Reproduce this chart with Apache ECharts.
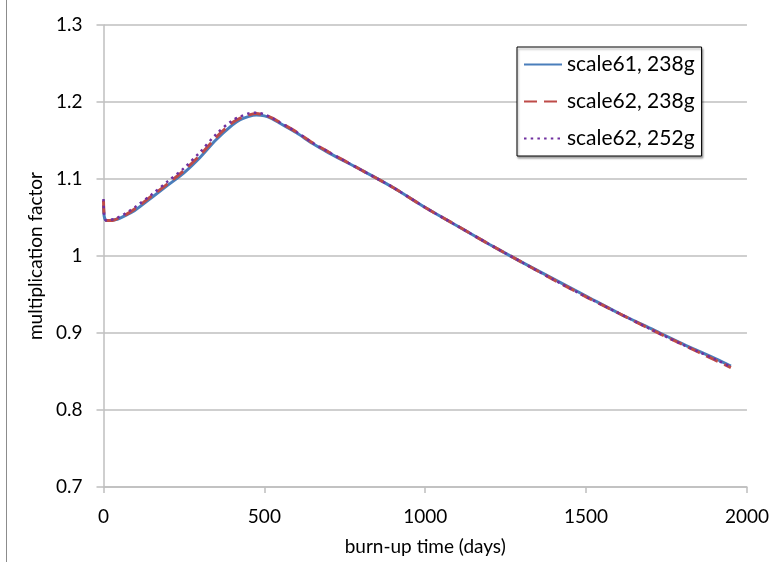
<!DOCTYPE html>
<html>
<head>
<meta charset="utf-8">
<script src="https://cdn.jsdelivr.net/npm/echarts@6/dist/echarts.min.js"></script>
<style>
  html, body { margin: 0; padding: 0; background: #fff; }
  #chart { width: 772px; height: 562px; }
</style>
</head>
<body>
<div id="chart"></div>
<script>
// Burn-up time in days (shared sample points)
const days = [0, 2, 6, 12, 20, 35, 50, 75, 100, 150, 200, 250, 300, 350, 400, 425, 450, 475, 500, 525, 550, 600, 650, 700, 800, 900, 1000, 1100, 1200, 1300, 1400, 1500, 1600, 1700, 1800, 1900, 1950];

// Multiplication factor per case
const scale61_238g = [1.066, 1.052, 1.047, 1.046, 1.046, 1.047, 1.049, 1.054, 1.060, 1.076, 1.092, 1.108, 1.128, 1.151, 1.170, 1.177, 1.181, 1.183, 1.182, 1.178, 1.172, 1.160, 1.146, 1.134, 1.112, 1.089, 1.063, 1.039, 1.015, 0.992, 0.970, 0.948, 0.926, 0.906, 0.886, 0.867, 0.857];
const scale62_238g = [1.072, 1.053, 1.047, 1.046, 1.046, 1.047, 1.050, 1.055, 1.062, 1.078, 1.094, 1.111, 1.131, 1.154, 1.173, 1.179, 1.183, 1.185, 1.183, 1.179, 1.173, 1.161, 1.147, 1.135, 1.112, 1.089, 1.063, 1.039, 1.015, 0.992, 0.969, 0.947, 0.926, 0.905, 0.885, 0.865, 0.855];
const scale62_252g = [1.074, 1.054, 1.047, 1.046, 1.047, 1.048, 1.051, 1.057, 1.064, 1.080, 1.097, 1.114, 1.135, 1.158, 1.176, 1.181, 1.185, 1.186, 1.184, 1.179, 1.173, 1.161, 1.147, 1.135, 1.112, 1.089, 1.063, 1.039, 1.015, 0.992, 0.969, 0.947, 0.926, 0.905, 0.885, 0.866, 0.856];

const seriesNames = ['scale61, 238g', 'scale62, 238g', 'scale62, 252g'];

const pairs = vals => days.map((d, i) => [d, vals[i]]);

const FONT = 'Lato, "Open Sans", sans-serif';
const GRID_COLOR = '#bfbfbf';

const chart = echarts.init(document.getElementById('chart'), null, { renderer: 'canvas' });

chart.setOption({
  animation: false,
  backgroundColor: '#ffffff',
  textStyle: { fontFamily: FONT, color: '#000' },
  grid: { left: 103.5, right: 25, top: 25, bottom: 75, containLabel: false },
  graphic: [{
    type: 'line',
    shape: { x1: 6.5, y1: 0, x2: 6.5, y2: 562 },
    style: { stroke: '#8c8c8c', lineWidth: 1 },
    silent: true
  }],
  xAxis: {
    type: 'value',
    min: 0, max: 2000, interval: 500,
    name: 'burn-up time (days)',
    nameLocation: 'middle',
    nameGap: 50,
    nameTextStyle: { fontFamily: FONT, fontSize: 19, color: '#000' },
    axisLine: { show: true, onZero: false, lineStyle: { color: GRID_COLOR, width: 1.5 } },
    axisTick: { show: true, inside: false, length: 6, lineStyle: { color: GRID_COLOR, width: 1.5 } },
    axisLabel: { fontFamily: FONT, fontSize: 19, color: '#000', margin: 20, formatter: v => String(v) },
    splitLine: { show: false }
  },
  yAxis: {
    type: 'value',
    min: 0.7, max: 1.3, interval: 0.1,
    name: 'multiplication factor',
    nameLocation: 'middle',
    nameGap: 58,
    nameRotate: 90,
    nameTextStyle: { fontFamily: FONT, fontSize: 19, color: '#000' },
    axisLine: { show: true, lineStyle: { color: GRID_COLOR, width: 1.5 } },
    axisTick: { show: true, inside: false, length: 7, lineStyle: { color: GRID_COLOR, width: 1.5 } },
    axisLabel: {
      fontFamily: FONT, fontSize: 19, color: '#000', margin: 21,
      formatter: v => String(parseFloat(v.toFixed(2)))
    },
    splitLine: { show: true, lineStyle: { color: GRID_COLOR, width: 1.5 } }
  },
  legend: {
    orient: 'vertical',
    left: 517, top: 47,
    padding: [7, 7, 7, 6],
    itemWidth: 38, itemHeight: 18, itemGap: 16,
    backgroundColor: '#ffffff',
    borderColor: '#000000', borderWidth: 1,
    shadowColor: 'rgba(0,0,0,0.35)', shadowBlur: 2, shadowOffsetX: 1, shadowOffsetY: 2,
    itemStyle: { opacity: 0 },
    textStyle: { fontFamily: FONT, fontSize: 21, color: '#000', lineHeight: 18 },
    data: seriesNames
  },
  series: [
    {
      name: seriesNames[0], type: 'line', data: pairs(scale61_238g),
      showSymbol: false, symbol: 'none', smooth: 0.3,
      lineStyle: { color: '#4a7ebb', width: 3, type: 'solid' },
      itemStyle: { color: '#4a7ebb' }, z: 2
    },
    {
      name: seriesNames[1], type: 'line', data: pairs(scale62_238g),
      showSymbol: false, symbol: 'none', smooth: 0.3,
      lineStyle: { color: '#be4b48', width: 3, type: [13, 7] },
      itemStyle: { color: '#be4b48' }, z: 3
    },
    {
      name: seriesNames[2], type: 'line', data: pairs(scale62_252g),
      showSymbol: false, symbol: 'none', smooth: 0.3,
      lineStyle: { color: '#7030a0', width: 2.5, type: [2.5, 4.2] },
      itemStyle: { color: '#7030a0' }, z: 4
    }
  ]
});
</script>
</body>
</html>
